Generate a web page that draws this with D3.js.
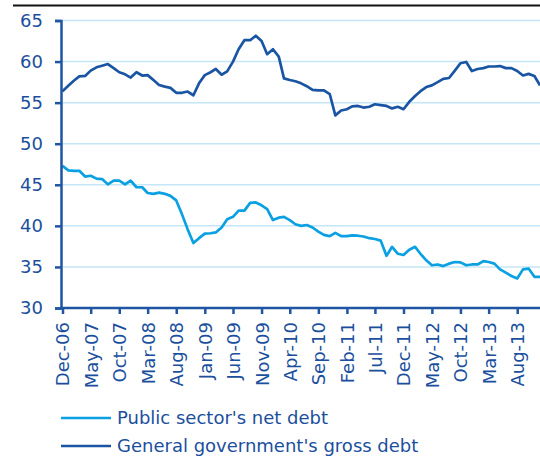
<!DOCTYPE html>
<html>
<head>
<meta charset="utf-8">
<script src="https://cdn.jsdelivr.net/npm/d3@7"></script>
<style>
  body { margin: 0; background: #fff; }
  svg { display: block; font-family: "DejaVu Sans", Verdana, sans-serif; }
</style>
</head>
<body>
<script>
// monthly, Dec-06 .. Dec-13 (% of GDP)
const startMonth = "2006-12";
const endMonth = "2013-12";

const netDebt = [
  47.3, 46.75, 46.7, 46.7, 46.0, 46.1, 45.75, 45.7, 45.05, 45.5,
  45.5, 45.05, 45.5, 44.7, 44.7, 44.0, 43.9, 44.05, 43.9, 43.65,
  43.1, 41.4, 39.6, 37.9, 38.5, 39.05, 39.1, 39.2, 39.8, 40.8,
  41.1, 41.85, 41.85, 42.8, 42.85, 42.5, 42.05, 40.7, 41.0, 41.1,
  40.7, 40.2, 40.0, 40.1, 39.8, 39.3, 38.9, 38.75, 39.15, 38.75,
  38.75, 38.85, 38.8, 38.7, 38.5, 38.4, 38.2, 36.35, 37.45, 36.6,
  36.45, 37.1, 37.45, 36.6, 35.8, 35.2, 35.3, 35.1, 35.4, 35.6,
  35.55, 35.2, 35.3, 35.3, 35.7, 35.6, 35.4, 34.7, 34.3, 33.9,
  33.6, 34.7, 34.8, 33.8, 33.8
];

const grossDebt = [
  56.4, 57.05, 57.7, 58.2, 58.25, 58.9, 59.3, 59.5, 59.7, 59.2,
  58.7, 58.45, 58.05, 58.7, 58.3, 58.35, 57.75, 57.15, 56.95, 56.8,
  56.2, 56.2, 56.35, 55.9, 57.35, 58.35, 58.7, 59.1, 58.4, 58.8,
  60.0, 61.5, 62.6, 62.6, 63.15, 62.5, 60.9, 61.5, 60.6, 57.95,
  57.75, 57.6, 57.35, 57.0, 56.55, 56.5, 56.5, 56.05, 53.45, 54.05,
  54.2, 54.55, 54.6, 54.4, 54.5, 54.8, 54.7, 54.6, 54.3, 54.5,
  54.2, 55.1, 55.8, 56.4, 56.9, 57.1, 57.5, 57.9, 58.0, 58.9,
  59.8, 59.95, 58.85, 59.1, 59.2, 59.4, 59.4, 59.45, 59.2, 59.2,
  58.85, 58.3, 58.5, 58.25, 57.1
];

const yTicks = [30, 35, 40, 45, 50, 55, 60, 65];
const xTickLabels = ["Dec-06", "May-07", "Oct-07", "Mar-08", "Aug-08", "Jan-09",
  "Jun-09", "Nov-09", "Apr-10", "Sep-10", "Feb-11", "Jul-11", "Dec-11",
  "May-12", "Oct-12", "Mar-13", "Aug-13"];

const seriesNames = ["Public sector's net debt", "General government's gross debt"];
const seriesColors = ["#0aa0e2", "#1a55a3"];

const width = 540, height = 456;
const margin = { top: 20.5, right: 0, bottom: 148, left: 61 };
const textColor = "#1b4f9d";
const axisColor = "#1f55a3";

const parseMonth = d3.timeParse("%Y-%m");
const parseLabel = d3.timeParse("%b-%y");
const months = d3.timeMonth.range(parseMonth(startMonth), d3.timeMonth.offset(parseMonth(endMonth), 1));

const x = d3.scaleTime()
    .domain([months[0], months[months.length - 1]])
    .range([margin.left + 1.5, 540]);

const y = d3.scaleLinear()
    .domain([30, 65])
    .range([height - margin.bottom, margin.top]);

const svg = d3.select("body").append("svg")
    .attr("width", width)
    .attr("height", height);

// rule under the (cropped) title
svg.append("line")
    .attr("x1", 13).attr("x2", width)
    .attr("y1", 5.5).attr("y2", 5.5)
    .attr("stroke", "#111")
    .attr("stroke-width", 2.2);

// gridlines
svg.append("g")
    .selectAll("line")
    .data(yTicks.filter(d => d > 30))
    .join("line")
    .attr("x1", margin.left).attr("x2", width)
    .attr("y1", d => y(d)).attr("y2", d => y(d))
    .attr("stroke", "#c4e6f6")
    .attr("stroke-width", 1.5);

// lines
const line = d3.line()
    .x((d, i) => x(months[i]))
    .y(d => y(d));

[netDebt, grossDebt].forEach((values, k) => {
    svg.append("path")
        .datum(values)
        .attr("fill", "none")
        .attr("stroke", seriesColors[k])
        .attr("stroke-width", 2.7)
        .attr("stroke-linejoin", "round")
        .attr("d", line);
});

// y axis
const yAxis = svg.append("g")
    .attr("transform", `translate(${margin.left},0)`)
    .call(d3.axisLeft(y).tickValues(yTicks).tickSize(6).tickPadding(12));
yAxis.select(".domain").attr("stroke", axisColor).attr("stroke-width", 2.5);
yAxis.selectAll(".tick line").attr("stroke", axisColor).attr("stroke-width", 2.5);
yAxis.selectAll(".tick text")
    .attr("fill", textColor)
    .style("font-size", "18px")
    .style("font-family", "DejaVu Sans, Verdana, sans-serif");

// x axis
const xAxis = svg.append("g")
    .attr("transform", `translate(0,${y(30)})`)
    .call(d3.axisBottom(x)
        .tickValues(xTickLabels.map(parseLabel))
        .tickFormat(d3.timeFormat("%b-%y"))
        .tickSize(6));
xAxis.select(".domain")
    .attr("d", `M${margin.left},0H${width}`)
    .attr("stroke", axisColor).attr("stroke-width", 2.5);
xAxis.selectAll(".tick line").attr("stroke", axisColor).attr("stroke-width", 2.5);
xAxis.selectAll(".tick text")
    .attr("fill", textColor)
    .attr("transform", "rotate(-90)")
    .attr("text-anchor", "end")
    .attr("x", -14)
    .attr("y", 0)
    .attr("dy", "0.36em")
    .style("font-size", "18px")
    .style("font-family", "DejaVu Sans, Verdana, sans-serif");

// legend
const legend = svg.append("g")
    .selectAll("g")
    .data(seriesNames)
    .join("g")
    .attr("transform", (d, i) => `translate(61,${418 + i * 28})`);
legend.append("line")
    .attr("x1", 0).attr("x2", 50)
    .attr("stroke", (d, i) => seriesColors[i])
    .attr("stroke-width", 2.5);
legend.append("text")
    .attr("x", 56)
    .attr("dy", "0.36em")
    .attr("fill", textColor)
    .style("font-size", "18px")
    .text(d => d);
</script>
</body>
</html>
